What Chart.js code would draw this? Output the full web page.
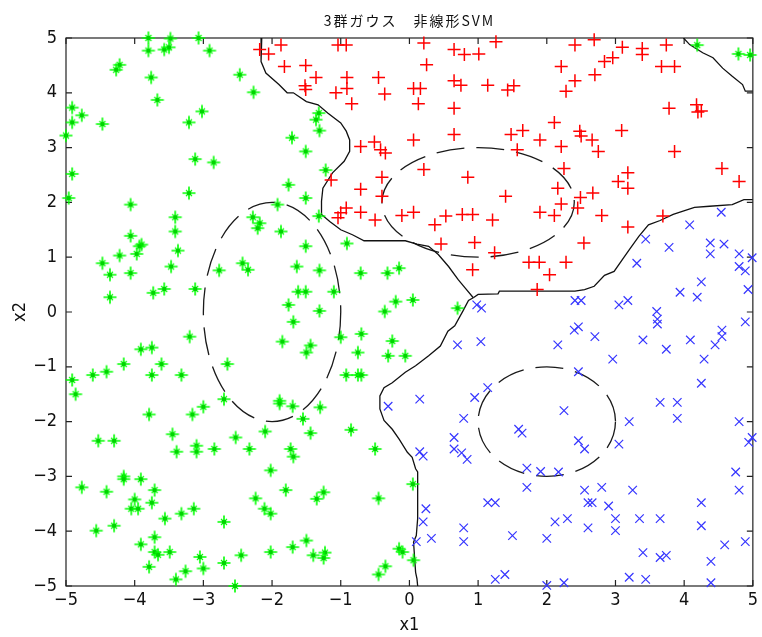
<!DOCTYPE html>
<html>
<head>
<meta charset="utf-8">
<script src="https://cdn.jsdelivr.net/npm/chart.js@4.4.1/dist/chart.umd.min.js"></script>
<style>
  html, body { margin: 0; padding: 0; background: #fff; }
  #wrap { width: 762px; height: 637px; }
</style>
</head>
<body>
<div id="wrap"><canvas id="c" width="762" height="637"></canvas></div>
<script>
// ---- class 1 (green *) ----
const greenPoints = [
  [-3.80,5.0],[-3.48,4.99],[-3.07,5.0],[-3.80,4.77],[-3.57,4.79],[-3.50,4.83],[-2.91,4.77],[-4.22,4.51],
  [-4.27,4.42],[-3.76,4.28],[-2.47,4.33],[-2.27,4.01],[-3.67,3.87],[-4.91,3.73],[-4.77,3.59],[-4.91,3.46],
  [-4.47,3.43],[-3.21,3.46],[-3.02,3.66],[-5.0,3.22],[-1.71,3.18],[-3.12,2.79],[-2.85,2.73],[-4.91,2.52],
  [-1.76,2.32],[-4.96,2.08],[-3.21,2.17],[-4.06,1.96],[-1.92,1.96],[-2.28,1.73],[-2.18,1.62],[-2.21,1.53],
  [-1.87,1.47],[-3.41,1.73],[-3.41,1.47],[-4.06,1.39],[-3.90,1.23],[-3.93,1.20],[-3.97,1.06],[-4.22,1.03],
  [-3.37,1.12],[-4.47,0.89],[-4.36,0.68],[-4.06,0.71],[-3.47,0.83],[-2.77,0.76],[-2.43,0.89],[-2.35,0.77],
  [-1.64,0.83],[-4.36,0.27],[-3.73,0.35],[-3.57,0.42],[-3.12,0.42],[-1.62,0.37],[-1.76,0.13],
  [-1.32,3.63],[-1.36,3.51],[-1.31,3.31],[-1.51,2.93],[-1.22,2.59],[-1.51,2.08],[-1.32,1.75],[-1.51,1.20],
  [-0.91,1.25],[-1.31,0.76],[-0.71,0.71],[-0.32,0.71],[-0.15,0.80],[-1.51,0.37],[-1.10,0.37],[-0.20,0.19],
  [0.05,0.22],[-0.36,0.01],[-1.31,0.02],[0.70,0.07],
  [-3.20,-0.45],[-3.91,-0.68],[-3.75,-0.65],[-3.61,-0.95],[-4.16,-0.95],[-4.41,-1.09],[-4.61,-1.15],
  [-3.75,-1.15],[-3.32,-1.15],[-4.91,-1.24],[-4.86,-1.50],[-2.65,-0.95],[-2.70,-1.59],[-3.00,-1.73],
  [-3.16,-1.87],[-3.79,-1.87],[-1.89,-1.62],[-1.89,-1.67],[-1.70,-1.72],[-2.10,-2.18],[-3.45,-2.23],
  [-4.53,-2.35],[-4.30,-2.35],[-2.53,-2.29],[-3.10,-2.44],[-3.10,-2.55],[-3.39,-2.55],[-2.84,-2.50],
  [-2.33,-2.50],[-1.73,-2.50],[-1.69,-2.64],[-4.16,-3.00],[-4.16,-3.05],[-3.91,-3.05],[-4.77,-3.20],
  [-4.41,-3.28],[-3.71,-3.25],[-2.02,-2.89],[-1.80,-3.25],[-4.00,-3.42],[-4.05,-3.59],[-3.95,-3.59],
  [-3.75,-3.48],[-2.24,-3.40],[-2.11,-3.59],[-2.02,-3.68],[-3.56,-3.77],[-3.32,-3.68],[-3.14,-3.59],
  [-2.70,-3.83],[-4.30,-3.90],[-4.56,-3.99],[-3.91,-4.24],[-3.71,-4.11],[-3.71,-4.38],[-3.66,-4.43],
  [-3.49,-4.38],[-3.05,-4.47],[-3.00,-4.68],[-2.45,-4.44],[-2.70,-4.58],[-2.02,-4.38],[-1.70,-4.29],
  [-3.79,-4.65],[-3.26,-4.73],[-3.40,-4.88],[-2.54,-5.0],[-1.69,-0.18],[-1.85,-0.54],
  [-1.00,-0.46],[-0.70,-0.40],[-0.25,-0.53],[-1.44,-0.61],[-1.50,-0.74],[-0.75,-0.74],[-0.31,-0.80],
  [-0.06,-0.80],[-0.92,-1.15],[-0.75,-1.15],[-0.70,-1.15],[-1.30,-1.74],[-1.55,-1.95],[-1.44,-2.21],
  [-0.85,-2.15],[-0.50,-2.50],[0.05,-3.14],[-1.25,-3.29],[-1.35,-3.41],[-0.45,-3.40],[-1.50,-4.17],
  [-1.40,-4.44],[-1.23,-4.39],[-1.25,-4.49],[-0.15,-4.32],[-0.10,-4.38],[0.06,-4.53],[-0.35,-4.64],
  [-0.45,-4.79],
  [4.19,4.87],[4.79,4.71],[4.96,4.69]
];

// ---- class 2 (red +) ----
const redPoints = [
  [-2.18,4.79],[-2.05,4.71],[-1.87,4.87],[-1.82,4.48],
  [-1.04,4.87],[-0.92,4.87],[0.21,4.91],[1.26,4.93],[0.65,4.79],[0.80,4.70],[1.01,4.71],[-1.51,4.50],
  [0.25,4.51],[-1.36,4.28],[-0.91,4.28],[-0.45,4.28],[-1.52,4.13],[-1.51,4.06],[0.65,4.22],[0.75,4.14],
  [1.14,4.14],[1.43,4.05],[1.52,4.13],[-1.07,4.0],[-0.91,4.08],[-0.36,3.98],[0.06,4.08],[0.16,4.08],
  [0.13,3.80],[-0.84,3.80],[0.65,3.72],[0.65,3.24],[1.48,3.24],[1.65,3.31],[1.57,2.96],[-0.71,3.02],
  [-0.51,3.10],[-0.42,2.96],[-0.35,2.90],[0.06,3.14],[0.21,2.60],[0.85,2.46],[-1.14,2.41],[-0.40,2.46],
  [-0.71,2.24],[-0.40,2.11],[1.40,2.11],[-0.92,1.90],[-1.0,1.81],[-1.04,1.72],[-0.71,1.82],[-0.50,1.68],
  [-0.11,1.76],[0.06,1.82],[0.37,1.59],[0.53,1.75],[0.77,1.78],[0.92,1.78],[1.21,1.68],[0.46,1.24],
  [0.95,1.27],[1.24,1.08],[1.74,0.91],[0.92,0.77],
  [2.41,4.87],[2.69,4.97],[3.10,4.83],[3.39,4.81],[3.39,4.70],[3.74,4.87],[2.21,4.48],[2.84,4.57],
  [2.96,4.64],[3.67,4.48],[3.86,4.48],[2.70,4.33],[2.41,4.22],[2.28,4.03],[3.78,3.72],[4.18,3.78],
  [4.20,3.65],[4.25,3.67],[2.11,3.46],[2.48,3.30],[2.50,3.21],[2.66,3.14],[3.09,3.31],[1.90,3.14],
  [2.21,3.02],[2.75,2.93],[3.86,2.93],[2.25,2.62],[4.55,2.62],[4.80,2.38],[3.18,2.54],[3.04,2.38],
  [3.18,2.26],[2.16,2.26],[2.21,1.97],[2.49,2.09],[2.67,2.17],[2.45,1.90],[1.90,1.82],[2.11,1.76],
  [2.80,1.76],[3.69,1.75],[3.18,1.55],[2.54,1.26],[1.89,0.91],[2.28,0.91],[2.04,0.68],[1.86,0.41]
];

// ---- class 3 (blue x) ----
const bluePoints = [
  [0.98,0.13],[1.05,0.07],
  [4.54,1.82],[4.08,1.59],[3.44,1.33],[3.78,1.18],[4.38,1.26],[4.38,1.06],[4.58,1.24],[4.80,1.06],
  [4.99,0.99],[4.80,0.83],[4.89,0.75],[3.31,0.89],[4.25,0.55],[3.94,0.36],[4.19,0.27],[4.93,0.41],
  [2.41,0.21],[2.50,0.21],[3.05,0.13],[3.18,0.21],[3.60,0.01],
  [0.70,-0.60],[1.04,-0.54],[0.15,-1.59],[-0.31,-1.72],[1.14,-1.38],[0.95,-1.56],[0.79,-1.94],
  [0.65,-2.29],[0.65,-2.50],[0.76,-2.57],[0.84,-2.69],[0.15,-2.55],[0.20,-2.63],[1.59,-2.14],[1.64,-2.21],
  [1.71,-2.85],[1.71,-3.20],[1.14,-3.48],[1.25,-3.48],[0.24,-3.59],[0.20,-3.83],[0.10,-4.19],[0.32,-4.13],
  [0.79,-3.94],[0.79,-4.19],[1.50,-4.08],[1.25,-4.88],[1.39,-4.79],
  [3.61,-0.22],[3.61,-0.13],[2.40,-0.33],[2.46,-0.27],[2.70,-0.45],[2.16,-0.60],[2.96,-0.86],[3.40,-0.51],
  [3.74,-0.68],[4.09,-0.51],[4.55,-0.33],[4.55,-0.45],[4.45,-0.60],[4.29,-0.86],[4.89,-0.18],[4.25,-1.30],
  [2.46,-1.09],[3.65,-1.65],[3.90,-1.65],[3.90,-1.94],[3.20,-2.00],[4.80,-2.00],[4.94,-2.38],[4.99,-2.29],
  [2.25,-1.80],[2.46,-2.35],[2.55,-2.50],[3.05,-2.41],[1.91,-2.91],[2.17,-2.92],[4.75,-2.92],[4.80,-3.25],
  [2.55,-3.25],[2.80,-3.20],[3.25,-3.25],[2.60,-3.48],[2.66,-3.48],[2.90,-3.54],[4.25,-3.48],[2.12,-3.83],
  [2.30,-3.77],[3.00,-3.77],[3.00,-3.99],[3.35,-3.77],[3.65,-3.77],[2.60,-3.94],[4.25,-3.90],[2.0,-4.13],
  [4.59,-4.25],[4.89,-4.19],[3.40,-4.39],[3.65,-4.48],[3.74,-4.44],[4.39,-4.55],[3.20,-4.84],[3.44,-4.88],
  [2.0,-4.99],[2.25,-4.94],[4.39,-4.94]
];

// ---- SVM decision boundaries ----
const boundaryGreenRed = [
  [-2.15,5.0],[-2.16,4.57],[-2.09,4.36],[-1.90,4.15],[-1.78,4.0],[-1.69,4.0],[-1.50,3.84],[-1.33,3.78],
  [-1.19,3.63],[-1.0,3.45],[-0.92,3.30],[-0.87,3.14],[-0.87,2.93],[-0.95,2.75],[-1.12,2.54],[-1.26,2.26],
  [-1.28,2.02],[-1.28,1.78],[-1.16,1.65],[-1.0,1.50],[-0.83,1.41],[-0.66,1.30],[-0.06,1.30],[0.11,1.24],
  [0.28,1.20],[0.42,1.05],[0.57,0.83],[0.71,0.59],[0.81,0.44],[0.93,0.26]
];
const boundaryRedBlue = [
  [0.93,0.26],[1.0,0.32],[1.29,0.33],[1.31,0.38],[1.77,0.38],[2.41,0.38],[2.55,0.41],[2.69,0.47],
  [2.84,0.67],[2.98,0.74],[3.12,0.99],[3.22,1.17],[3.34,1.38],[3.48,1.59],[3.65,1.67],[3.84,1.78],
  [4.15,1.91],[4.37,1.93],[4.70,1.96],[4.87,2.05],[5.0,2.05]
];
const boundaryTopRight = [
  [3.99,5.0],[4.08,4.88],[4.27,4.73],[4.42,4.64],[4.56,4.45],[4.70,4.30],[4.85,4.15],[4.89,4.03],[5.0,4.03]
];
const boundaryGreenBlue = [
  [0.93,0.26],[0.86,0.21],[0.78,0.02],[0.66,-0.25],[0.56,-0.35],[0.45,-0.62],[0.28,-0.80],[0.09,-0.98],
  [-0.06,-1.10],[-0.25,-1.29],[-0.37,-1.38],[-0.43,-1.53],[-0.43,-1.77],[-0.37,-1.98],[-0.25,-2.14],
  [-0.15,-2.32],[-0.03,-2.56],[0.04,-2.65],[0.09,-2.86],[0.12,-2.92],[0.12,-3.77],[0.10,-4.08],
  [0.06,-4.20],[0.09,-4.75],[0.11,-4.87],[0.12,-5.0]
];

// ---- Gaussian contours: [centre x, centre y, radius x, radius y] ----
const contours = [
  [1, 2, 1.4, 1],
  [-2, 0, 1, 2],
  [2, -2, 1, 1]
];

// ---- axes ----
const tickValues = [-5, -4, -3, -2, -1, 0, 1, 2, 3, 4, 5];
const tickLabels = ['\u22125', '\u22124', '\u22123', '\u22122', '\u22121', '0', '1', '2', '3', '4', '5'];
const chartTitle = '3群ガウス\u3000非線形SVM';

const toXY = arr => arr.map(p => ({ x: p[0], y: p[1] }));
const labelFont = { family: '"Liberation Sans Narrow", "DejaVu Sans Condensed", "Liberation Sans", sans-serif', size: 18 };

// green asterisk marker: plus, short diagonals and a centre dot
function makeStar() {
  const c = document.createElement('canvas');
  c.width = 16; c.height = 16;
  const g = c.getContext('2d');
  g.strokeStyle = '#00ff00';
  g.lineWidth = 1.6;
  g.beginPath();
  g.moveTo(8, 1.5); g.lineTo(8, 14.5);
  g.moveTo(1.5, 8); g.lineTo(14.5, 8);
  g.stroke();
  g.lineWidth = 1.2;
  g.beginPath();
  g.moveTo(5, 5); g.lineTo(11, 11);
  g.moveTo(11, 5); g.lineTo(5, 11);
  g.stroke();
  g.fillStyle = '#00d400';
  g.beginPath(); g.arc(8, 8, 2.3, 0, Math.PI * 2); g.fill();
  return c;
}
const starMarker = makeStar();

const boxAndContours = {
  id: 'boxAndContours',
  beforeDatasetsDraw(chart) {
    const { ctx, chartArea: a, scales: { x, y } } = chart;
    ctx.save();
    // title centred over the plot area
    ctx.fillStyle = '#111';
    ctx.font = '14px "Noto Sans CJK JP", sans-serif';
    ctx.textAlign = 'center';
    ctx.textBaseline = 'middle';
    if ('letterSpacing' in ctx) ctx.letterSpacing = '2px';
    ctx.fillText(chartTitle, (a.left + a.right) / 2, 21);
    if ('letterSpacing' in ctx) ctx.letterSpacing = '0px';
    // dashed contours
    ctx.strokeStyle = '#1a1a1a';
    ctx.lineWidth = 1.3;
    ctx.setLineDash([28, 12]);
    contours.forEach(([cx, cy, rx, ry]) => {
      const px = x.getPixelForValue(cx), py = y.getPixelForValue(cy);
      const prx = Math.abs(x.getPixelForValue(cx + rx) - px);
      const pry = Math.abs(y.getPixelForValue(cy + ry) - py);
      ctx.beginPath();
      ctx.ellipse(px, py, prx, pry, 0, 0, Math.PI * 2);
      ctx.stroke();
    });
    ctx.setLineDash([]);
    // frame and inward ticks on all four sides
    ctx.strokeStyle = '#222';
    ctx.lineWidth = 1.2;
    ctx.strokeRect(a.left, a.top, a.right - a.left, a.bottom - a.top);
    const len = 6;
    ctx.beginPath();
    tickValues.forEach(v => {
      const tx = x.getPixelForValue(v);
      ctx.moveTo(tx, a.bottom); ctx.lineTo(tx, a.bottom - len);
      ctx.moveTo(tx, a.top); ctx.lineTo(tx, a.top + len);
      const ty = y.getPixelForValue(v);
      ctx.moveTo(a.left, ty); ctx.lineTo(a.left + len, ty);
      ctx.moveTo(a.right, ty); ctx.lineTo(a.right - len, ty);
    });
    ctx.stroke();
    ctx.restore();
  }
};

const lineSet = (arr) => ({
  data: toXY(arr), showLine: true, borderColor: '#111', borderWidth: 1.3,
  pointRadius: 0, fill: false, tension: 0, order: 1
});

new Chart(document.getElementById('c'), {
  type: 'scatter',
  data: {
    datasets: [
      { data: toXY(greenPoints), pointStyle: starMarker, pointRadius: 7, clip: false, order: 0 },
      { data: toXY(redPoints), pointStyle: 'cross', pointRadius: 6.5, borderColor: '#ff0000',
        borderWidth: 1.5, clip: false, order: 0 },
      { data: toXY(bluePoints), pointStyle: 'crossRot', pointRadius: 6, borderColor: '#3535ff',
        borderWidth: 1.2, clip: false, order: 0 },
      lineSet(boundaryGreenRed),
      lineSet(boundaryRedBlue),
      lineSet(boundaryTopRight),
      lineSet(boundaryGreenBlue)
    ]
  },
  options: {
    responsive: false,
    animation: false,
    devicePixelRatio: 1,
    events: [],
    layout: { padding: { left: 0, right: 2, top: 38, bottom: 0 } },
    plugins: {
      legend: { display: false },
      tooltip: { enabled: false },
      title: { display: false }
    },
    scales: {
      x: {
        type: 'linear', min: -5, max: 5,
        afterFit: s => { s.height = 51; },
        afterBuildTicks: s => { s.ticks = tickValues.map(v => ({ value: v })); },
        ticks: { callback: (v) => tickLabels[tickValues.indexOf(v)], color: '#111', font: labelFont, padding: 4, maxRotation: 0, autoSkip: false },
        grid: { display: false, drawTicks: false },
        border: { display: false },
        title: { display: true, text: 'x1', color: '#111', font: labelFont, padding: { top: 2, bottom: 1 } }
      },
      y: {
        type: 'linear', min: -5, max: 5,
        afterFit: s => { s.width = 66; },
        afterBuildTicks: s => { s.ticks = tickValues.map(v => ({ value: v })); },
        ticks: { callback: (v) => tickLabels[tickValues.indexOf(v)], color: '#111', font: labelFont, padding: 9, autoSkip: false },
        grid: { display: false, drawTicks: false },
        border: { display: false },
        title: { display: true, text: 'x2', color: '#111', font: labelFont, padding: { top: 10, bottom: 10 } }
      }
    }
  },
  plugins: [boxAndContours]
});
</script>
</body>
</html>
